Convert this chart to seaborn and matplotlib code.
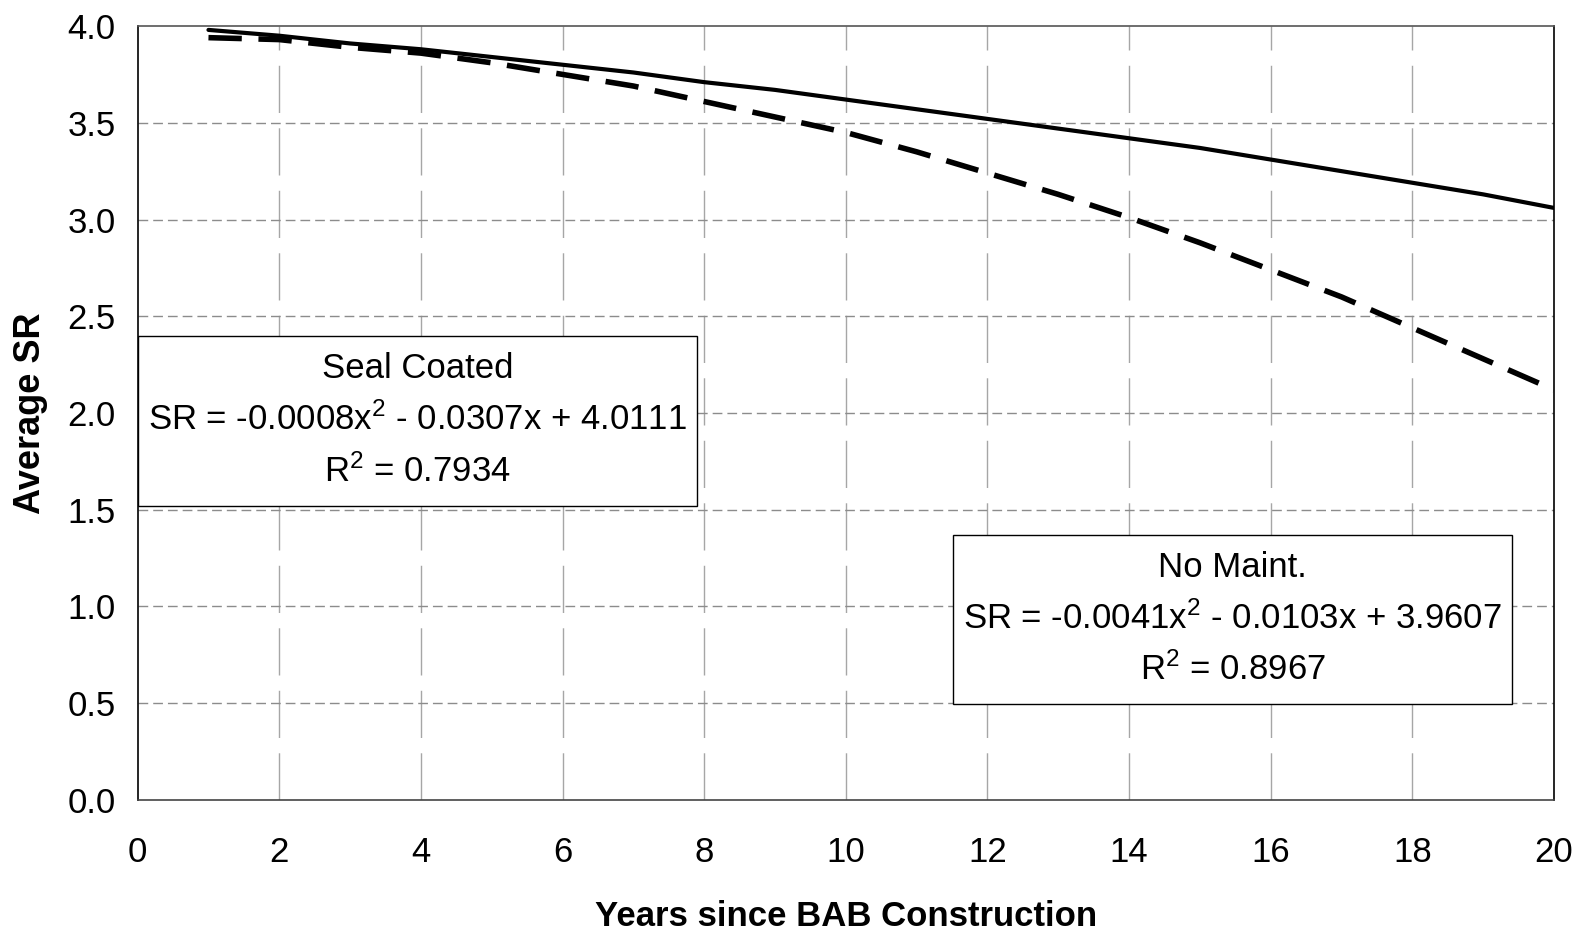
import matplotlib
matplotlib.use("Agg")
import matplotlib.pyplot as plt
import seaborn as sns
import pandas as pd
from matplotlib.patches import Rectangle

# ---- data ----
years = list(range(1, 21))
seal_coated = [3.98, 3.95, 3.91, 3.88, 3.84, 3.80, 3.76, 3.71, 3.67, 3.62,
               3.57, 3.52, 3.47, 3.42, 3.37, 3.31, 3.25, 3.19, 3.13, 3.06]
no_maint = [3.94, 3.93, 3.89, 3.86, 3.81, 3.75, 3.69, 3.61, 3.53, 3.45,
            3.35, 3.24, 3.13, 3.01, 2.88, 2.74, 2.60, 2.44, 2.28, 2.12]
x_ticks = [0, 2, 4, 6, 8, 10, 12, 14, 16, 18, 20]
y_ticks = [0.0, 0.5, 1.0, 1.5, 2.0, 2.5, 3.0, 3.5, 4.0]
x_label = "Years since BAB Construction"
y_label = "Average SR"
seal_box = ["Seal Coated", "SR = -0.0008x$^{2}$ - 0.0307x + 4.0111", "R$^{2}$ = 0.7934"]
nm_box = ["No Maint.", "SR = -0.0041x$^{2}$ - 0.0103x + 3.9607", "R$^{2}$ = 0.8967"]

df = pd.DataFrame({"Years": years + years,
                   "SR": seal_coated + no_maint,
                   "Series": ["Seal Coated"] * len(years) + ["No Maint."] * len(years)})

sns.set_style("white")
plt.rcParams["font.family"] = ["Liberation Sans", "DejaVu Sans"]
plt.rcParams["mathtext.fontset"] = "custom"
plt.rcParams["mathtext.rm"] = "Liberation Sans"
plt.rcParams["mathtext.default"] = "regular"
plt.rcParams["text.color"] = "black"
plt.rcParams["axes.labelcolor"] = "black"
plt.rcParams["xtick.color"] = "black"
plt.rcParams["ytick.color"] = "black"

fig = plt.figure(figsize=(15.95, 9.30), dpi=100)
ax = fig.add_axes([0.0863, 0.1398, 0.9743 - 0.0863, 0.972 - 0.1398])

sns.lineplot(data=df[df.Series == "Seal Coated"], x="Years", y="SR", ax=ax,
             color="black", linewidth=3.0, legend=False, zorder=5)
sns.lineplot(data=df[df.Series == "No Maint."], x="Years", y="SR", ax=ax,
             color="black", linewidth=4.0, legend=False, zorder=5,
             linestyle=(0, (6.0, 3.0)))

ax.set_xlim(0, 20)
ax.set_ylim(0, 4.0)
ax.set_xticks(x_ticks)
ax.set_yticks(y_ticks)
ax.set_yticklabels([f"{v:.1f}" for v in y_ticks])
ax.tick_params(axis="both", direction="out", length=7, width=1, labelsize=25,
               colors="black", labelcolor="black")
ax.tick_params(axis="y", pad=9)
ax.tick_params(axis="x", pad=19)

ax.grid(False)
for v in x_ticks[1:-1]:
    ax.axvline(v, color="#a6a6a6", linewidth=1.0, linestyle=(0, (34, 11)), zorder=1)
for v in y_ticks[1:-1]:
    ax.axhline(v, color="#8c8c8c", linewidth=1.0, linestyle=(0, (7, 3.6)), zorder=1)

for s in ax.spines.values():
    s.set_visible(True)
    s.set_color("black")
    s.set_linewidth(1.2)
ax.spines["top"].set_color("#555555")
ax.spines["bottom"].set_color("#444444")

ax.set_xlabel(x_label, fontsize=25, fontweight="bold", labelpad=22)
ax.set_ylabel(y_label, fontsize=26, fontweight="bold", labelpad=14)

# annotation boxes (axes fraction)
ax.add_patch(Rectangle((0.0, 0.380), 0.395, 0.220, transform=ax.transAxes,
                       facecolor="white", edgecolor="black", linewidth=1.0, zorder=6))
for t, yy in zip(seal_box, [0.558, 0.491, 0.425]):
    ax.text(0.1975, yy, t, transform=ax.transAxes, ha="center", va="center",
            fontsize=25, zorder=7)

ax.add_patch(Rectangle((0.576, 0.124), 0.3945, 0.219, transform=ax.transAxes,
                       facecolor="white", edgecolor="black", linewidth=1.0, zorder=6))
for t, yy in zip(nm_box, [0.300, 0.234, 0.168]):
    ax.text(0.773, yy, t, transform=ax.transAxes, ha="center", va="center",
            fontsize=25, zorder=7)

fig.savefig("out.png", dpi=100)
